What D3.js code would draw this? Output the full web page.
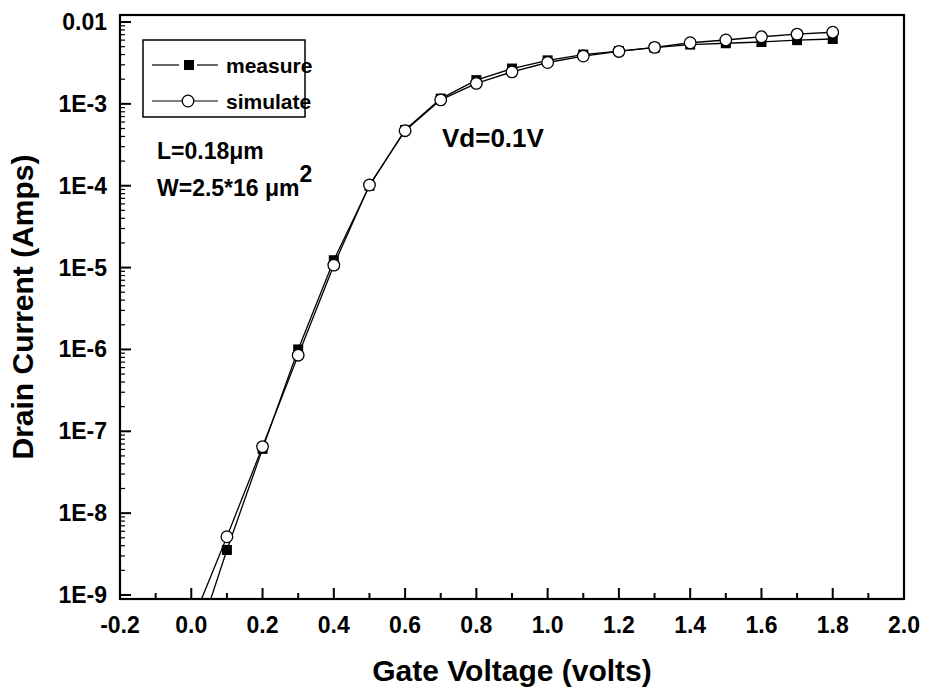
<!DOCTYPE html>
<html>
<head>
<meta charset="utf-8">
<script src="https://cdnjs.cloudflare.com/ajax/libs/d3/7.8.5/d3.min.js"></script>
<style>
  body { margin: 0; background: #fff; }
  text { font-family: "Liberation Sans", Arial, sans-serif; font-weight: bold; fill: #000; }
</style>
</head>
<body>
<svg id="chart" width="927" height="695"></svg>
<script>
// gate voltage (V)
var gateVoltage = [0.0, 0.1, 0.2, 0.3, 0.4, 0.5, 0.6, 0.7, 0.8, 0.9, 1.0, 1.1, 1.2, 1.3, 1.4, 1.5, 1.6, 1.7, 1.8];
// drain current (A)
var measured = [1.7e-10, 3.55e-9, 6.1e-8, 1.0e-6, 1.23e-5, 1.0e-4, 4.8e-4, 1.16e-3, 1.95e-3, 2.7e-3, 3.4e-3, 4.0e-3, 4.4e-3, 4.85e-3, 5.3e-3, 5.5e-3, 5.7e-3, 6.0e-3, 6.2e-3];
var simulated = [4.4e-10, 5.15e-9, 6.5e-8, 8.5e-7, 1.07e-5, 1.02e-4, 4.7e-4, 1.12e-3, 1.78e-3, 2.46e-3, 3.2e-3, 3.84e-3, 4.37e-3, 4.9e-3, 5.58e-3, 6.03e-3, 6.6e-3, 7.1e-3, 7.5e-3];

var xTicks = [-0.2, 0.0, 0.2, 0.4, 0.6, 0.8, 1.0, 1.2, 1.4, 1.6, 1.8, 2.0];
var yTicks = [1e-9, 1e-8, 1e-7, 1e-6, 1e-5, 1e-4, 1e-3, 1e-2];
var yTickLabels = ["1E-9", "1E-8", "1E-7", "1E-6", "1E-5", "1E-4", "1E-3", "0.01"];

// plot box (don't call it "top", that clashes with window.top)
var pL = 120, pR = 904, pT = 15, pB = 599;
var svg = d3.select("#chart");

var x = d3.scaleLinear().domain([-0.2, 2.0]).range([pL, pR]);
// 1E-9 sits a little above the bottom frame, 0.01 a little below the top
var y = d3.scaleLog().domain([1e-9, 1e-2]).range([595, 22]);

// minor ticks
var xMinor = d3.range(-0.1, 2.0, 0.2);
var yMinor = [];
for (var e = -9; e < -2; e++) {
  for (var m = 2; m <= 9; m++) yMinor.push(m * Math.pow(10, e));
}

var g = svg.append("g");

g.selectAll(".xmaj").data(xTicks).enter().append("line")
  .attr("x1", function(d) { return x(d); }).attr("x2", function(d) { return x(d); })
  .attr("y1", pB).attr("y2", pB - 11)
  .attr("stroke", "#000").attr("stroke-width", 2);
g.selectAll(".xmin").data(xMinor).enter().append("line")
  .attr("x1", function(d) { return x(d); }).attr("x2", function(d) { return x(d); })
  .attr("y1", pB).attr("y2", pB - 6)
  .attr("stroke", "#000").attr("stroke-width", 2);

g.selectAll(".ymaj").data(yTicks).enter().append("line")
  .attr("y1", function(d) { return y(d); }).attr("y2", function(d) { return y(d); })
  .attr("x1", pL).attr("x2", pL + 11)
  .attr("stroke", "#000").attr("stroke-width", 2);
g.selectAll(".ymin").data(yMinor).enter().append("line")
  .attr("y1", function(d) { return y(d); }).attr("y2", function(d) { return y(d); })
  .attr("x1", pL).attr("x2", pL + 5)
  .attr("stroke", "#000").attr("stroke-width", 1.2);

// tick labels
g.selectAll(".xlab").data(xTicks).enter().append("text")
  .attr("x", function(d) { return x(d); }).attr("y", 633)
  .attr("text-anchor", "middle").attr("font-size", 23)
  .text(function(d) { return d.toFixed(1); });
g.selectAll(".ylab").data(yTicks).enter().append("text")
  .attr("x", 107).attr("y", function(d) { return y(d) + 8; })
  .attr("text-anchor", "end").attr("font-size", 23)
  .text(function(d, i) { return yTickLabels[i]; });

// axis titles
svg.append("text").attr("x", 512).attr("y", 681).attr("text-anchor", "middle")
  .attr("font-size", 30).text("Gate Voltage (volts)");
svg.append("text").attr("transform", "translate(33,307) rotate(-90)").attr("text-anchor", "middle")
  .attr("font-size", 30).text("Drain Current (Amps)");

// data
svg.append("clipPath").attr("id", "clip").append("rect")
  .attr("x", pL).attr("y", pT).attr("width", pR - pL).attr("height", pB - pT);

var line = d3.line().x(function(d) { return x(d[0]); }).y(function(d) { return y(d[1]); });
var measPts = gateVoltage.map(function(v, i) { return [v, measured[i]]; });
var simPts = gateVoltage.map(function(v, i) { return [v, simulated[i]]; });

var plot = svg.append("g").attr("clip-path", "url(#clip)");
plot.append("path").datum(measPts).attr("d", line).attr("fill", "none").attr("stroke", "#000").attr("stroke-width", 1.3);
plot.append("path").datum(simPts).attr("d", line).attr("fill", "none").attr("stroke", "#000").attr("stroke-width", 1.3);

var sq = 10;
plot.selectAll(".sq").data(measPts.filter(function(d) { return d[1] >= 1e-9; })).enter().append("rect")
  .attr("x", function(d) { return x(d[0]) - sq / 2; })
  .attr("y", function(d) { return y(d[1]) - sq / 2; })
  .attr("width", sq).attr("height", sq).attr("fill", "#000");
plot.selectAll(".ci").data(simPts.filter(function(d) { return d[1] >= 1e-9; })).enter().append("circle")
  .attr("cx", function(d) { return x(d[0]); })
  .attr("cy", function(d) { return y(d[1]); })
  .attr("r", 5.8).attr("fill", "#fff").attr("stroke", "#000").attr("stroke-width", 1.3);

// frame
svg.append("rect").attr("x", pL).attr("y", pT).attr("width", pR - pL).attr("height", pB - pT)
  .attr("fill", "none").attr("stroke", "#000").attr("stroke-width", 2.2);

// legend
var lg = svg.append("g");
lg.append("rect").attr("x", 143).attr("y", 40).attr("width", 162).attr("height", 77)
  .attr("fill", "#fff").attr("stroke", "#000").attr("stroke-width", 1.5);
[[152, 179], [197, 218]].forEach(function(s) {
  lg.append("line").attr("x1", s[0]).attr("x2", s[1]).attr("y1", 65).attr("y2", 65).attr("stroke", "#000").attr("stroke-width", 1.2);
});
lg.append("line").attr("x1", 152).attr("x2", 218).attr("y1", 101).attr("y2", 101).attr("stroke", "#000").attr("stroke-width", 1.2);
lg.append("rect").attr("x", 184).attr("y", 60).attr("width", sq).attr("height", sq).attr("fill", "#000");
lg.append("circle").attr("cx", 188).attr("cy", 101).attr("r", 5.8).attr("fill", "#fff").attr("stroke", "#000").attr("stroke-width", 1.3);
lg.append("text").attr("x", 226).attr("y", 73).attr("font-size", 21).text("measure");
lg.append("text").attr("x", 226).attr("y", 109).attr("font-size", 21).text("simulate");

// annotations
svg.append("text").attr("x", 157).attr("y", 159).attr("font-size", 23).text("L=0.18\u03bcm");
var w = svg.append("text").attr("x", 157).attr("y", 196).attr("font-size", 23);
w.append("tspan").text("W=2.5*16 \u03bcm");
w.append("tspan").attr("dy", -14).attr("font-size", 23).text("2");
svg.append("text").attr("x", 442).attr("y", 147).attr("font-size", 26).text("Vd=0.1V");
</script>
</body>
</html>
